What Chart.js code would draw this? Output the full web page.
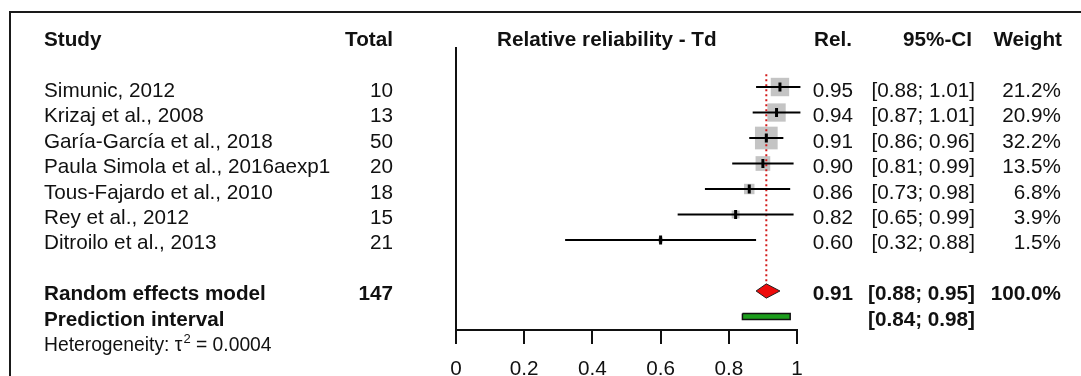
<!DOCTYPE html>
<html>
<head>
<meta charset="utf-8">
<script src="https://cdn.jsdelivr.net/npm/chart.js@4/dist/chart.umd.min.js"></script>
<style>
  html, body { margin: 0; padding: 0; background: #fff; overflow: hidden; }
  canvas { display: block; }
</style>
</head>
<body>
<canvas id="forest" width="1081" height="376"></canvas>
<script>
// Study-level results
const studies = [
  'Simunic, 2012',
  'Krizaj et al., 2008',
  'Garía-García et al., 2018',
  'Paula Simola et al., 2016aexp1',
  'Tous-Fajardo et al., 2010',
  'Rey et al., 2012',
  'Ditroilo et al., 2013'
];
const totals = [10, 13, 50, 20, 18, 15, 21];
const estimates = [0.95, 0.94, 0.91, 0.90, 0.86, 0.82, 0.60];
const lower = [0.88, 0.87, 0.86, 0.81, 0.73, 0.65, 0.32];
const upper = [1.01, 1.01, 0.96, 0.99, 0.98, 0.99, 0.88];
const weights = [21.2, 20.9, 32.2, 13.5, 6.8, 3.9, 1.5];

// Pooled (random effects) results
const modelTotal = 147;
const modelEstimate = 0.91;
const modelCI = [0.88, 0.95];
const modelWeight = 100.0;
const predictionInterval = [0.84, 0.98];
const tau2 = '0.0004';

// Axis
const xTicks = [0, 0.2, 0.4, 0.6, 0.8, 1];

// Row layout (1..7 studies, then a gap, then pooled rows)
const rowOf = i => i + 1;
const MODEL_ROW = 9;
const PI_ROW = 10;
const HET_ROW = 11;
const DIAMOND_HALF = 0.28;
const PI_HALF = 0.12;

const FONT = "'Liberation Sans', Arial, Helvetica, sans-serif";
const FS = 20.7;

const fmt2 = v => v.toFixed(2);
const ciText = (lo, hi) => '[' + fmt2(lo) + '; ' + fmt2(hi) + ']';

// Confidence interval whiskers, one dataset per study
const ciDatasets = studies.map((s, i) => ({
  type: 'line',
  data: [{ x: lower[i], y: rowOf(i) }, { x: upper[i], y: rowOf(i) }],
  borderColor: '#000',
  borderWidth: 2,
  pointRadius: 0,
  fill: false,
  clip: false,
  order: 2
}));

const datasets = [
  // Pooled diamond: upper half filled down to the lower half
  {
    type: 'line',
    data: [
      { x: modelCI[0], y: MODEL_ROW },
      { x: modelEstimate, y: MODEL_ROW - DIAMOND_HALF },
      { x: modelCI[1], y: MODEL_ROW }
    ],
    borderColor: '#222',
    borderWidth: 1,
    backgroundColor: '#ee0a0a',
    fill: '+1',
    pointRadius: 0,
    clip: false,
    order: 1
  },
  {
    type: 'line',
    data: [
      { x: modelCI[0], y: MODEL_ROW },
      { x: modelEstimate, y: MODEL_ROW + DIAMOND_HALF },
      { x: modelCI[1], y: MODEL_ROW }
    ],
    borderColor: '#222',
    borderWidth: 1,
    fill: false,
    pointRadius: 0,
    clip: false,
    order: 0
  },
  // Prediction interval bar: fill between top and bottom edges
  {
    type: 'line',
    data: [
      { x: predictionInterval[0], y: PI_ROW - PI_HALF },
      { x: predictionInterval[1], y: PI_ROW - PI_HALF }
    ],
    borderWidth: 0,
    borderColor: 'rgba(0,0,0,0)',
    backgroundColor: '#1c9e1c',
    fill: '+1',
    pointRadius: 0,
    clip: false,
    order: 1
  },
  {
    type: 'line',
    data: [
      { x: predictionInterval[0], y: PI_ROW + PI_HALF },
      { x: predictionInterval[1], y: PI_ROW + PI_HALF }
    ],
    borderWidth: 0,
    borderColor: 'rgba(0,0,0,0)',
    fill: false,
    pointRadius: 0,
    clip: false,
    order: 1
  },
  {
    type: 'line',
    data: [
      { x: predictionInterval[0], y: PI_ROW - PI_HALF },
      { x: predictionInterval[1], y: PI_ROW - PI_HALF },
      { x: predictionInterval[1], y: PI_ROW + PI_HALF },
      { x: predictionInterval[0], y: PI_ROW + PI_HALF },
      { x: predictionInterval[0], y: PI_ROW - PI_HALF }
    ],
    borderColor: '#111',
    borderWidth: 1.5,
    fill: false,
    pointRadius: 0,
    clip: false,
    order: 0
  },
  // Dotted reference line at the pooled estimate
  {
    type: 'line',
    data: [
      { x: modelEstimate, y: 0.5 },
      { x: modelEstimate, y: MODEL_ROW - DIAMOND_HALF }
    ],
    borderColor: '#d21c1c',
    borderWidth: 2,
    borderDash: [2, 3],
    pointRadius: 0,
    fill: false,
    clip: false,
    order: 3
  },
  // Weight boxes (area proportional to weight)
  {
    type: 'scatter',
    data: estimates.map((e, i) => ({ x: e, y: rowOf(i) })),
    pointStyle: 'rect',
    pointRadius: ctx => 4.0 * Math.sqrt(weights[ctx.dataIndex]) / Math.SQRT2,
    pointBackgroundColor: '#c4c4c4',
    pointBorderWidth: 0,
    borderWidth: 0,
    clip: false,
    order: 4
  },
  ...ciDatasets,
  // Point estimate marks
  {
    type: 'scatter',
    data: estimates.map((e, i) => ({ x: e, y: rowOf(i) })),
    pointStyle: 'line',
    rotation: 90,
    pointRotation: 90,
    pointRadius: 4.5,
    pointBorderColor: '#000',
    pointBorderWidth: 3,
    clip: false,
    order: 1
  }
];

// Table columns around the plot
const tableText = {
  id: 'tableText',
  afterDraw(chart) {
    const { ctx } = chart;
    const ys = chart.scales.y;
    const base = r => ys.getPixelForValue(r) + 9.5;
    const put = (str, x, y, align, bold, size) => {
      ctx.font = (bold ? 'bold ' : '') + (size || FS) + 'px ' + FONT;
      ctx.textAlign = align;
      ctx.textBaseline = 'alphabetic';
      ctx.fillText(str, x, y);
      return ctx.measureText(str).width;
    };
    ctx.save();

    // frame
    ctx.strokeStyle = '#1a1a1a';
    ctx.lineWidth = 2;
    ctx.beginPath();
    ctx.moveTo(1081, 12);
    ctx.lineTo(10, 12);
    ctx.lineTo(10, 376);
    ctx.stroke();

    ctx.fillStyle = '#111';
    const cStudy = 44, cTotal = 393, cRel = 853, cCI = 975, cW = 1061;

    // headers
    const hy = 46;
    put('Study', cStudy, hy, 'left', true);
    put('Total', cTotal, hy, 'right', true);
    put('Relative reliability - Td', 497, hy, 'left', true);
    put('Rel.', cRel - 1, hy, 'right', true);
    put('95%-CI', cCI - 3, hy, 'right', true);
    put('Weight', cW + 1, hy, 'right', true);

    // study rows
    studies.forEach((s, i) => {
      const y = base(rowOf(i));
      put(s, cStudy, y, 'left', false);
      put(String(totals[i]), cTotal, y, 'right', false);
      put(fmt2(estimates[i]), cRel, y, 'right', false);
      put(ciText(lower[i], upper[i]), cCI, y, 'right', false);
      put(weights[i].toFixed(1) + '%', cW, y, 'right', false);
    });

    // pooled rows
    const my = base(MODEL_ROW);
    put('Random effects model', cStudy, my, 'left', true);
    put(String(modelTotal), cTotal, my, 'right', true);
    put(fmt2(modelEstimate), cRel, my, 'right', true);
    put(ciText(modelCI[0], modelCI[1]), cCI, my, 'right', true);
    put(modelWeight.toFixed(1) + '%', cW, my, 'right', true);

    const py = base(PI_ROW);
    put('Prediction interval', cStudy, py, 'left', true);
    put(ciText(predictionInterval[0], predictionInterval[1]), cCI, py, 'right', true);

    // heterogeneity
    const hy2 = base(HET_ROW) - 0.5;
    let x = cStudy;
    x += put('Heterogeneity: \u03c4', x, hy2, 'left', false, 19.3);
    x += 1;
    x += put('2', x, hy2 - 8, 'left', false, 13);
    put(' = ' + tau2, x, hy2, 'left', false, 19.3);

    ctx.restore();
  }
};

new Chart(document.getElementById('forest'), {
  type: 'scatter',
  data: { datasets },
  options: {
    responsive: false,
    animation: false,
    events: [],
    layout: { padding: { left: 456, right: 284, top: 48, bottom: 0 } },
    plugins: {
      legend: { display: false },
      tooltip: { enabled: false }
    },
    scales: {
      x: {
        type: 'linear',
        position: 'bottom',
        min: 0,
        max: 1,
        afterFit: s => { s.height = 46; },
        afterBuildTicks: s => { s.ticks = xTicks.map(v => ({ value: v })); },
        ticks: {
          color: '#111',
          font: { family: FONT, size: FS },
          padding: 13,
          maxRotation: 0,
          autoSkip: false,
          callback: v => String(Math.round(v * 10) / 10)
        },
        grid: {
          display: true,
          drawOnChartArea: false,
          drawTicks: true,
          tickLength: 14,
          color: '#111',
          lineWidth: 2
        },
        border: { display: true, color: '#111', width: 2 }
      },
      y: {
        type: 'linear',
        reverse: true,
        min: -0.53,
        max: 10.53,
        afterFit: s => { s.width = 0; },
        ticks: { display: false },
        grid: { display: false },
        border: { display: true, color: '#111', width: 2 }
      }
    }
  },
  plugins: [tableText]
});
</script>
</body>
</html>
